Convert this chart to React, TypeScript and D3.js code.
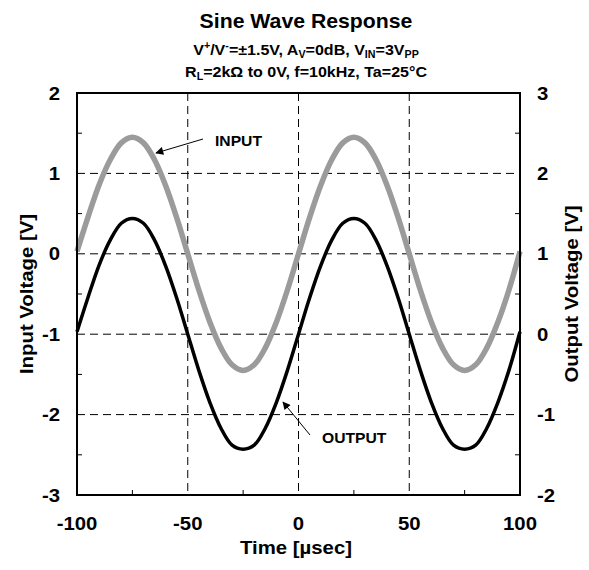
import React from "react";
import * as d3 from "d3";

const timeUs = [-100,-95,-90,-85,-80,-75,-70,-65,-60,-55,-50,-45,-40,-35,-30,-25,-20,-15,-10,-5,0,5,10,15,20,25,30,35,40,45,50,55,60,65,70,75,80,85,90,95,100];
const inputV = [0.03,0.46,0.86,1.17,1.38,1.45,1.38,1.17,0.85,0.45,0,-0.45,-0.85,-1.17,-1.38,-1.45,-1.38,-1.17,-0.85,-0.45,0,0.45,0.85,1.17,1.38,1.45,1.38,1.17,0.85,0.45,0,-0.45,-0.85,-1.17,-1.38,-1.45,-1.38,-1.17,-0.85,-0.45,0.03];
const outputV = [0.03,0.46,0.86,1.17,1.38,1.44,1.38,1.17,0.85,0.45,0,-0.45,-0.85,-1.17,-1.38,-1.43,-1.38,-1.17,-0.85,-0.45,0,0.45,0.85,1.17,1.38,1.44,1.38,1.17,0.85,0.45,0,-0.45,-0.85,-1.17,-1.38,-1.43,-1.38,-1.17,-0.85,-0.45,0.03];
const xTicks = [-100,-50,0,50,100];
const xMinor = [-75,-25,25,75];
const yLeftTicks = [2,1,0,-1,-2,-3];
const yRightTicks = [3,2,1,0,-1,-2];
const yMinor = [1.5,0.5,-0.5,-1.5,-2.5];

const M = { left: 77, right: 520, top: 93, bottom: 495 };
const FONT = "'Liberation Sans', Arial, sans-serif";

function T(props: { x: number; y: number; size: number; sx?: number; rot?: number; anchor?: string; children: React.ReactNode }) {
  const { x, y, size, sx = 1.1, rot = 0, anchor = "middle", children } = props;
  return (
    <text transform={`translate(${x},${y}) rotate(${rot}) scale(${sx},1)`} textAnchor={anchor} fontWeight="bold" fontSize={size}>
      {children}
    </text>
  );
}

export default function App() {
  const x = d3.scaleLinear().domain([-100, 100]).range([M.left, M.right]);
  const yL = d3.scaleLinear().domain([-3, 2]).range([M.bottom, M.top]);
  const yR = d3.scaleLinear().domain([-2, 3]).range([M.bottom, M.top]);
  const lineIn = d3.line<number>().x((_, i) => x(timeUs[i])).y((d) => yL(d)).curve(d3.curveCatmullRom);
  const lineOut = d3.line<number>().x((_, i) => x(timeUs[i])).y((d) => yR(d)).curve(d3.curveCatmullRom);
  const dash = "8,5";
  const cy = (M.top + M.bottom) / 2;
  const tcx = 306;
  const tick = 18;
  return (
    <svg width={589} height={570} style={{ position: "absolute", left: 0, top: 0, display: "block" }} fontFamily={FONT}>
      <rect width={589} height={570} fill="#fff" />
      <defs>
        <marker id="ah" viewBox="0 0 10 10" refX="9" refY="5" markerWidth="11" markerHeight="8" orient="auto" markerUnits="userSpaceOnUse">
          <path d="M0,0 L10,5 L0,10 z" fill="#000" />
        </marker>
      </defs>
      {/* title */}
      <T x={tcx} y={28} size={19.5} sx={1.09}>Sine Wave Response</T>
      <T x={tcx} y={55} size={15} sx={1.07}>
        V<tspan fontSize={10} dy={-6}>+</tspan><tspan dy={6}>/V</tspan><tspan fontSize={10} dy={-6}>-</tspan><tspan dy={6}>=±1.5V, A</tspan><tspan fontSize={10} dy={3}>V</tspan><tspan dy={-3}>=0dB, V</tspan><tspan fontSize={10} dy={3}>IN</tspan><tspan dy={-3}>=3V</tspan><tspan fontSize={10} dy={3}>PP</tspan>
      </T>
      <T x={tcx} y={77} size={15} sx={1.07}>
        R<tspan fontSize={10} dy={3}>L</tspan><tspan dy={-3}>=2kΩ to 0V, f=10kHz, Ta=25°C</tspan>
      </T>
      {/* grid */}
      {xTicks.slice(1, -1).map((t) => (
        <line key={"gx" + t} x1={x(t)} x2={x(t)} y1={M.top} y2={M.bottom} stroke="#000" strokeWidth={1} strokeDasharray={dash} />
      ))}
      {yLeftTicks.slice(1, -1).map((t) => (
        <line key={"gy" + t} x1={M.left} x2={M.right} y1={yL(t)} y2={yL(t)} stroke="#000" strokeWidth={1} strokeDasharray={dash} />
      ))}
      {/* minor ticks */}
      {yMinor.map((t) => (
        <g key={"ym" + t}>
          <line x1={M.left} x2={M.left + 5} y1={yL(t)} y2={yL(t)} stroke="#000" />
          <line x1={M.right - 5} x2={M.right} y1={yL(t)} y2={yL(t)} stroke="#000" />
        </g>
      ))}
      {xMinor.map((t) => (
        <line key={"xm" + t} x1={x(t)} x2={x(t)} y1={M.bottom - 5} y2={M.bottom} stroke="#000" />
      ))}
      {/* curves */}
      <path d={lineIn(inputV) || ""} fill="none" stroke="#9b9b9b" strokeWidth={5.5} />
      <path d={lineOut(outputV) || ""} fill="none" stroke="#000" strokeWidth={3.5} />
      {/* frame */}
      <rect x={M.left} y={M.top} width={M.right - M.left} height={M.bottom - M.top} fill="none" stroke="#000" strokeWidth={2} />
      {/* tick labels */}
      {yLeftTicks.map((t) => (
        <T key={"yl" + t} x={60} y={yL(t) + 6.5} size={tick} sx={1.13} anchor="end">{t}</T>
      ))}
      {yRightTicks.map((t) => (
        <T key={"yr" + t} x={537} y={yR(t) + 6.5} size={tick} sx={1.13} anchor="start">{t}</T>
      ))}
      {xTicks.map((t) => (
        <T key={"xl" + t} x={x(t)} y={530} size={tick} sx={1.13}>{t}</T>
      ))}
      {/* axis titles */}
      <T x={296} y={554} size={18.5} sx={1.1}>Time [µsec]</T>
      <T x={33} y={cy} size={18.5} sx={1.1} rot={-90}>Input Voltage [V]</T>
      <T x={578} y={cy} size={18.5} sx={1.1} rot={-90}>Output Voltage [V]</T>
      {/* annotations */}
      <line x1={203} y1={139} x2={156} y2={153} stroke="#000" strokeWidth={1} markerEnd="url(#ah)" />
      <T x={215} y={146} size={14.5} sx={1.08} anchor="start">INPUT</T>
      <line x1={310} y1={435} x2={283} y2={402} stroke="#000" strokeWidth={1} markerEnd="url(#ah)" />
      <T x={322} y={443} size={14.5} sx={1.08} anchor="start">OUTPUT</T>
    </svg>
  );
}
